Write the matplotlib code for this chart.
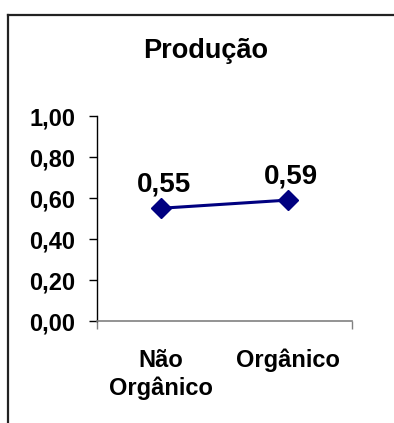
import matplotlib.pyplot as plt
from matplotlib.lines import Line2D

# data
categorias = ["Não\nOrgânico", "Orgânico"]
valores = [0.55, 0.59]
rotulos = ["0,55", "0,59"]
yticks = [0.0, 0.2, 0.4, 0.6, 0.8, 1.0]
ytick_labels = ["0,00", "0,20", "0,40", "0,60", "0,80", "1,00"]

plt.rcParams['font.family'] = ['Liberation Sans', 'DejaVu Sans']
plt.rcParams['font.weight'] = 'bold'

fig = plt.figure(figsize=(3.94, 4.23), dpi=100)
ax = fig.add_axes([0.2462, 0.2411, 0.6472, 0.4846])

x = [0.5, 1.5]
ax.plot(x, valores, color='#000080', lw=2.2, marker='D', markersize=10,
        markeredgecolor='#000080', markerfacecolor='#000080', zorder=3)

for xi, v, r in zip(x, valores, rotulos):
    ax.annotate(r, (xi, v), xytext=(2, 12), textcoords='offset points',
                ha='center', va='baseline', fontsize=20, fontweight='bold')

ax.set_xlim(0, 2)
ax.set_ylim(0, 1)
ax.set_yticks(yticks)
ax.set_yticklabels(ytick_labels)
ax.set_xticks([0, 2])
ax.set_xticklabels([])
ax.set_xticks(x, categorias, minor=True)

ax.tick_params(axis='y', direction='out', length=5.8, width=1, color='black',
               pad=10, labelsize=17)
ax.tick_params(axis='x', which='major', direction='out', length=5.8, width=1,
               color='#808080')
ax.tick_params(axis='x', which='minor', length=0, pad=20, labelsize=17)
for lbl in ax.get_xticklabels(minor=True):
    lbl.set_fontweight('bold')
    lbl.set_linespacing(1.25)
for lbl in ax.get_yticklabels():
    lbl.set_fontweight('bold')

ax.spines['top'].set_visible(False)
ax.spines['right'].set_visible(False)
ax.spines['left'].set_color('black')
ax.spines['left'].set_linewidth(1)
ax.spines['bottom'].set_color('#808080')
ax.spines['bottom'].set_linewidth(1.2)

fig.text(0.523, (423 - 58.5) / 423, "Produção", ha='center', va='baseline',
         fontsize=19.5, fontweight='bold')

# chart border (left and top edges)
fig.add_artist(Line2D([8 / 394, 8 / 394], [0, 1 - 15 / 423], transform=fig.transFigure,
                      color='#222222', lw=1.6))
fig.add_artist(Line2D([8 / 394, 1], [1 - 15 / 423, 1 - 15 / 423], transform=fig.transFigure,
                      color='#222222', lw=1.6))

fig.savefig("out.png", dpi=100)
